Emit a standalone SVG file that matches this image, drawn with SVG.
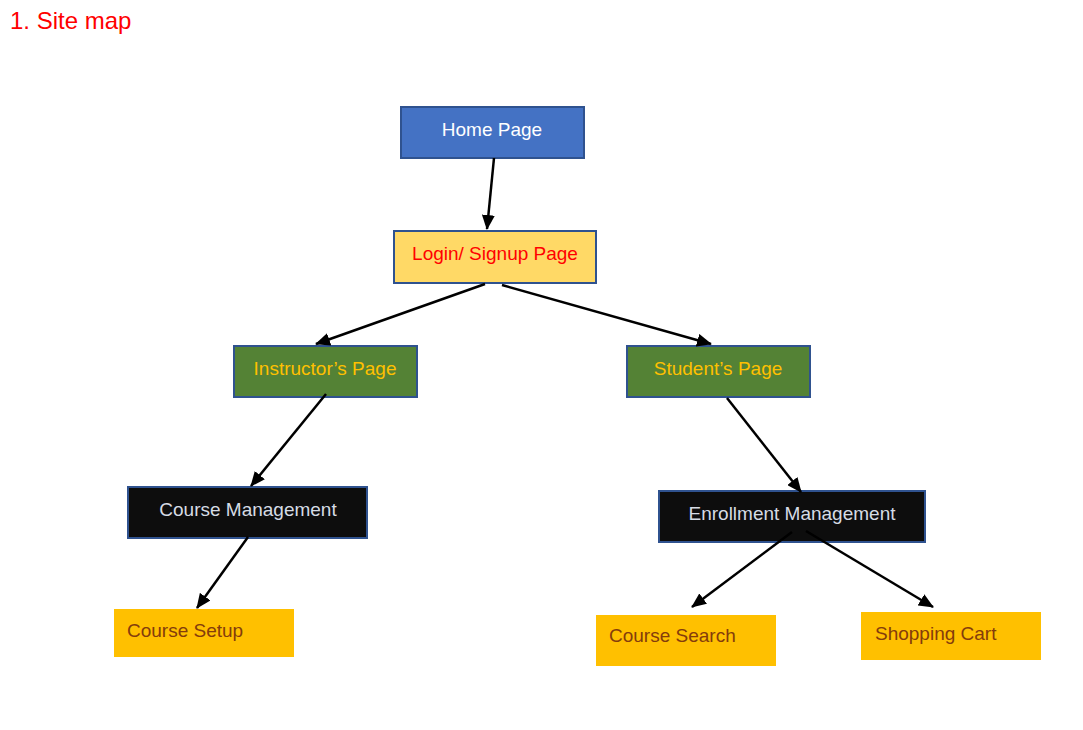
<svg xmlns="http://www.w3.org/2000/svg" width="1083" height="730" viewBox="0 0 1083 730">
<style>
text{font-family:"Liberation Sans",Arial,sans-serif;font-size:19px}
.c{text-anchor:middle}
.box{stroke:#2F528F;stroke-width:2}
.blue{fill:#4472C4}
.yel{fill:#FFD966}
.grn{fill:#548235}
.blk{fill:#0D0D0D}
.org{fill:#FFC000}
.edge{stroke:#000;stroke-width:2.5;fill:none;marker-end:url(#ah)}
</style>
<defs>
<marker id="ah" markerUnits="userSpaceOnUse" markerWidth="15" markerHeight="13" refX="14" refY="6.5" orient="auto">
<path d="M0,0 L15,6.5 L0,13 Z" fill="#000"/>
</marker>
</defs>
<rect width="1083" height="730" fill="#fff"/>
<text x="10" y="29" style="font-size:24px" fill="#FF0000">1. Site map</text>
<g id="home"><rect class="box blue" x="401" y="107" width="183" height="51"/><text class="c" x="492" y="136" fill="#fff">Home Page</text></g>
<g id="login"><rect class="box yel" x="394" y="231" width="202" height="52"/><text class="c" x="495" y="260" fill="#FF0000">Login/ Signup Page</text></g>
<g id="instructor"><rect class="box grn" x="234" y="346" width="183" height="51"/><text class="c" x="325" y="375" fill="#FFC000">Instructor’s Page</text></g>
<g id="student"><rect class="box grn" x="627" y="346" width="183" height="51"/><text class="c" x="718" y="375" fill="#FFC000">Student’s Page</text></g>
<g id="course-mgmt"><rect class="box blk" x="128" y="487" width="239" height="51"/><text class="c" x="248" y="516" fill="#D6DCE5">Course Management</text></g>
<g id="enroll-mgmt"><rect class="box blk" x="659" y="491" width="266" height="51"/><text class="c" x="792" y="520" fill="#D6DCE5">Enrollment Management</text></g>
<g id="course-setup"><rect class="org" x="114" y="609" width="180" height="48"/><text x="127" y="637" fill="#843C0C">Course Setup</text></g>
<g id="course-search"><rect class="org" x="596" y="615" width="180" height="51"/><text x="609" y="642" fill="#843C0C">Course Search</text></g>
<g id="shopping-cart"><rect class="org" x="861" y="612" width="180" height="48"/><text x="875" y="640" fill="#843C0C">Shopping Cart</text></g>
<g id="connectors">
<line class="edge" x1="494" y1="158" x2="487" y2="229"/>
<line class="edge" x1="485" y1="284" x2="316" y2="344"/>
<line class="edge" x1="502" y1="285" x2="711" y2="344"/>
<line class="edge" x1="326" y1="394" x2="251" y2="486"/>
<line class="edge" x1="727" y1="398" x2="801" y2="492"/>
<line class="edge" x1="248" y1="537" x2="197" y2="608"/>
<line class="edge" x1="792" y1="532" x2="692" y2="607"/>
<line class="edge" x1="806" y1="531" x2="933" y2="607"/>
</g>
</svg>
